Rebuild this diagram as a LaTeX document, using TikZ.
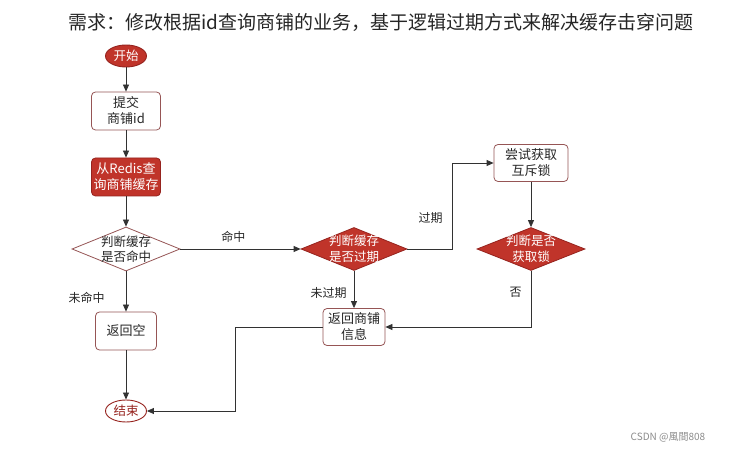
\documentclass[tikz,border=0pt]{standalone}
\usepackage{fontspec}
\setmainfont{Noto Sans CJK SC}
\usetikzlibrary{shapes.geometric,arrows.meta}
\definecolor{dred}{RGB}{192,52,42}
\definecolor{bred}{RGB}{150,35,30}
\definecolor{boxb}{RGB}{150,85,85}
\definecolor{linec}{RGB}{50,50,50}
\begin{document}
\begin{tikzpicture}[x=1pt,y=-1pt,
  font=\fontsize{12}{15.5}\selectfont,
  box/.style={draw=boxb, rounded corners=4pt, fill=white, minimum width=69pt, minimum height=38pt, align=center, inner sep=0pt, line width=0.8pt, text=black!85, font=\fontsize{13}{16}\selectfont},
  rbox/.style={box, fill=dred, draw=bred, text=white},
  dia/.style={diamond, draw=boxb, fill=white, minimum width=108pt, minimum height=44pt, inner sep=0pt, line width=0.8pt},
  rdia/.style={dia, fill=dred, draw=bred},
  dlab/.style={align=center, font=\fontsize{12.5}{15.5}\selectfont},
  term/.style={ellipse, minimum width=41pt, minimum height=22pt, inner sep=0pt, line width=0.9pt, font=\fontsize{12.5}{15}\selectfont},
  arr/.style={draw=linec, line width=0.8pt, -{Triangle[length=7pt,width=6pt]}},
  lab/.style={text=black!85, inner sep=1pt}
  ]
\useasboundingbox (0,0) rectangle (734,449);
\fill[white] (0,0) rectangle (734,449);

\node[font=\fontsize{19}{22}\selectfont, text=black!85] (title) at (381,22) {需求：修改根据id查询商铺的业务，基于逻辑过期方式来解决缓存击穿问题};

\node[term, fill=dred, draw=bred, text=white] (start) at (126,56) {开始};
\node[box] (submit) at (126,111) {提交\\商铺id};
\node[rbox] (query) at (126,177) {从Redis查\\询商铺缓存};
\node[dia, label={[dlab,text=black!85]center:判断缓存\\是否命中}] (hit) at (126,249) {};
\node[box, minimum width=61pt] (empty) at (126,331) {返回空};
\node[term, fill=white, draw=bred, text=bred] (end) at (126,411) {结束};

\node[rdia, minimum width=106pt, minimum height=43pt, label={[dlab,text=white]center:判断缓存\\是否过期}] (exp) at (354,249) {};
\node[box, minimum width=74pt, minimum height=37pt] (lock) at (531,163) {尝试获取\\互斥锁};
\node[rdia, minimum height=43pt, label={[dlab,text=white]center:判断是否\\获取锁}] (getlock) at (531,249) {};
\node[box, minimum width=62pt, minimum height=37pt] (ret) at (354,327) {返回商铺\\信息};

\coordinate (c1) at (452,249);
\coordinate (c2) at (235,327);

\draw[arr] (start) -- (submit);
\draw[arr] (submit) -- (query);
\draw[arr] (query) -- (hit);
\draw[arr] (hit.east) -- node[lab, pos=0.44, above=5pt] {命中} (exp.west);
\draw[arr] (hit) -- node[lab, pos=0.67, left=20pt] {未命中} (empty);
\draw[arr] (empty) -- (end);
\draw[arr] (exp.east) -- (c1) |- node[lab, pos=0.18, left=8pt] {过期} (lock.west);
\draw[arr] (lock) -- (getlock);
\draw[arr] (getlock.south) |- node[lab, pos=0.19, left=8pt] {否} (ret.east);
\draw[arr] (exp) -- node[lab, pos=0.58, left=6pt] {未过期} (ret);
\draw[arr] (ret.west) -- (c2) |- (end.east);

\node[text=black!45, font=\fontsize{10}{12}\selectfont] (wm) at (668,437) {CSDN @風間808};
\end{tikzpicture}
\end{document}
